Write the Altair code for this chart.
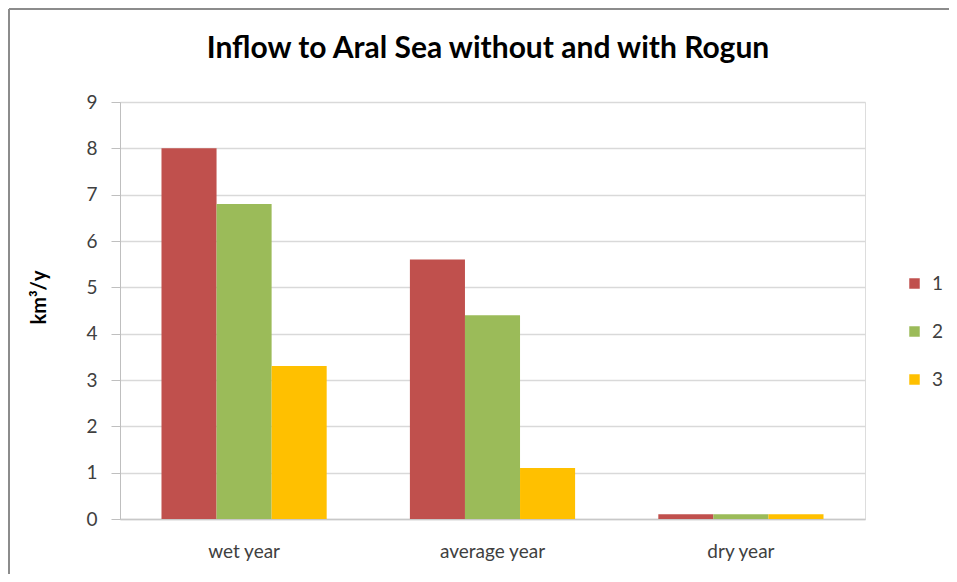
import altair as alt
import pandas as pd

title_text = ["Inflow to Aral Sea without and with Rogun"]
categories = ["wet year", "average year", "dry year"]
series = ["1", "2", "3"]
values_1 = [8.0, 5.6, 0.1]
values_2 = [6.8, 4.4, 0.1]
values_3 = [3.3, 1.1, 0.1]
colors = ["#C0504D", "#9BBB59", "#FFC000"]

rows = []
for s, vals in zip(series, [values_1, values_2, values_3]):
    for c, v in zip(categories, vals):
        rows.append({"category": c, "series": s, "value": v})
df = pd.DataFrame(rows)

FONT = "Lato"

bars = alt.Chart(df).mark_bar().encode(
    x=alt.X("category:N", sort=categories,
            scale=alt.Scale(paddingInner=0.335, paddingOuter=0.167),
            axis=alt.Axis(title=None, labelAngle=0, ticks=False, labelPadding=23,
                          labelFontSize=19, labelColor="#404040", labelFont=FONT,
                          domainColor="#c8c8c8", domainWidth=1.5, grid=False)),
    xOffset=alt.XOffset("series:N", sort=series),
    y=alt.Y("value:Q", scale=alt.Scale(domain=[0, 9]),
            axis=alt.Axis(title="km³/y", values=list(range(10)), tickSize=9,
                          tickColor="#bfbfbf", domainColor="#bfbfbf", labelFontSize=19,
                          labelColor="#404040", labelFont=FONT, labelPadding=14,
                          titleFont=FONT, titleFontSize=20, titleFontWeight="bold",
                          titleColor="#000000", titlePadding=36, titleY=195,
                          gridColor="#d9d9d9", gridWidth=1.5)),
    color=alt.Color("series:N", sort=series,
                    scale=alt.Scale(domain=series, range=colors),
                    legend=alt.Legend(title=None, orient="none", legendX=785, legendY=172,
                                      symbolType="square", symbolSize=110,
                                      symbolStrokeWidth=0, labelFontSize=19, labelFont=FONT,
                                      labelColor="#404040", rowPadding=28, labelOffset=8)),
)

frame_df = pd.DataFrame({"a": [0]})
top_line = alt.Chart(frame_df).mark_rule(color="#8c8c8c", strokeWidth=2).encode(
    x=alt.value(-111), x2=alt.value(829), y=alt.value(-93))
left_line = alt.Chart(frame_df).mark_rule(color="#8c8c8c", strokeWidth=2).encode(
    x=alt.value(-111), y=alt.value(-93), y2=alt.value(472))

title_df = pd.DataFrame({"t": title_text})
title = alt.Chart(title_df).mark_text(font=FONT, fontSize=30, fontWeight="bold",
                                      color="#000000", align="center",
                                      baseline="alphabetic").encode(
    text="t:N", x=alt.value(368), y=alt.value(-44))

chart = alt.layer(top_line, left_line, title, bars).properties(
    width=745, height=417,
    autosize=alt.AutoSizeParams(type="none"),
    padding={"left": 112, "top": 94, "right": 84, "bottom": 55},
).configure_view(stroke=None).configure(background="white")

chart.save("out.html", embed_options={"renderer": "svg", "actions": False})
